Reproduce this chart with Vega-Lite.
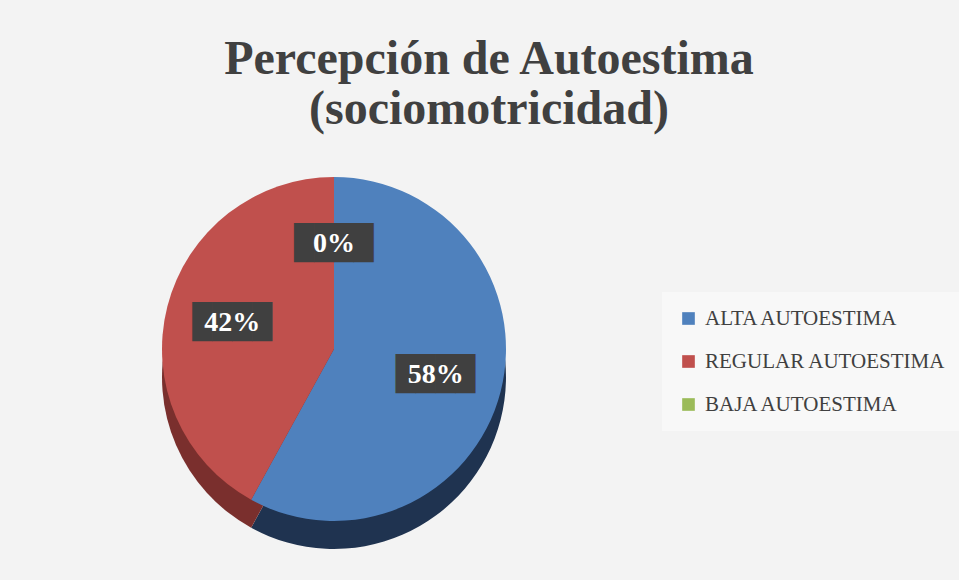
{
  "$schema": "https://vega.github.io/schema/vega-lite/v6.json",
  "width": 959,
  "height": 580,
  "autosize": {"type": "fit", "contains": "padding"},
  "padding": {"left": 10, "right": 301, "top": 36, "bottom": 26},
  "background": "#f3f3f3",
  "title": {
    "text": ["Percepción de Autoestima", "(sociomotricidad)"],
    "font": "Liberation Serif",
    "fontSize": 48,
    "fontWeight": "bold",
    "color": "#404040",
    "lineHeight": 50,
    "anchor": "middle",
    "dx": 155,
    "offset": 10
  },
  "data": {
    "values": [
      {"categoria": "ALTA AUTOESTIMA", "pct": 0.58, "orden": 1},
      {"categoria": "REGULAR AUTOESTIMA", "pct": 0.42, "orden": 2},
      {"categoria": "BAJA AUTOESTIMA", "pct": 0.0, "orden": 3}
    ]
  },
  "layer": [
    {
      "mark": {"type": "arc", "radius": 172, "yOffset": 28},
      "encoding": {
        "theta": {"field": "pct", "type": "quantitative", "stack": true},
        "order": {"field": "orden", "type": "quantitative"},
        "fill": {
          "field": "categoria",
          "type": "nominal",
          "scale": {
            "domain": ["ALTA AUTOESTIMA", "REGULAR AUTOESTIMA", "BAJA AUTOESTIMA"],
            "range": ["#1f3350", "#7a2f2d", "#5e7a30"]
          },
          "legend": null
        }
      }
    },
    {
      "mark": {"type": "arc", "radius": 172},
      "encoding": {
        "theta": {"field": "pct", "type": "quantitative", "stack": true},
        "order": {"field": "orden", "type": "quantitative"},
        "color": {
          "field": "categoria",
          "type": "nominal",
          "scale": {
            "domain": ["ALTA AUTOESTIMA", "REGULAR AUTOESTIMA", "BAJA AUTOESTIMA"],
            "range": ["#4f81bd", "#c0504d", "#9bbb59"]
          },
          "legend": {
            "title": null,
            "orient": "none",
            "legendX": 652,
            "legendY": 148,
            "fillColor": "#f8f8f8",
            "padding": 16,
            "symbolType": "square",
            "symbolSize": 160,
            "symbolStrokeWidth": 0,
            "labelFont": "Liberation Serif",
            "labelFontSize": 21,
            "labelColor": "#404040",
            "labelLimit": 400,
            "rowPadding": 21,
            "labelOffset": 6
          }
        }
      }
    },
    {
      "mark": {"type": "text", "radius": 105, "text": "████", "font": "DejaVu Sans Mono", "fontSize": 33, "color": "#404040", "baseline": "middle", "align": "center"},
      "encoding": {
        "theta": {"field": "pct", "type": "quantitative", "stack": true},
        "order": {"field": "orden", "type": "quantitative"},
        "detail": {"field": "categoria", "type": "nominal"}
      }
    },
    {
      "mark": {"type": "text", "radius": 105, "font": "Liberation Serif", "fontSize": 28, "fontWeight": "bold", "color": "#ffffff", "baseline": "middle", "align": "center"},
      "encoding": {
        "theta": {"field": "pct", "type": "quantitative", "stack": true},
        "order": {"field": "orden", "type": "quantitative"},
        "detail": {"field": "categoria", "type": "nominal"},
        "text": {"field": "pct", "type": "quantitative", "format": ".0%"}
      }
    }
  ],
  "resolve": {"legend": {"color": "independent", "fill": "independent"}, "scale": {"color": "independent", "fill": "independent"}},
  "config": {"view": {"stroke": null}}
}
